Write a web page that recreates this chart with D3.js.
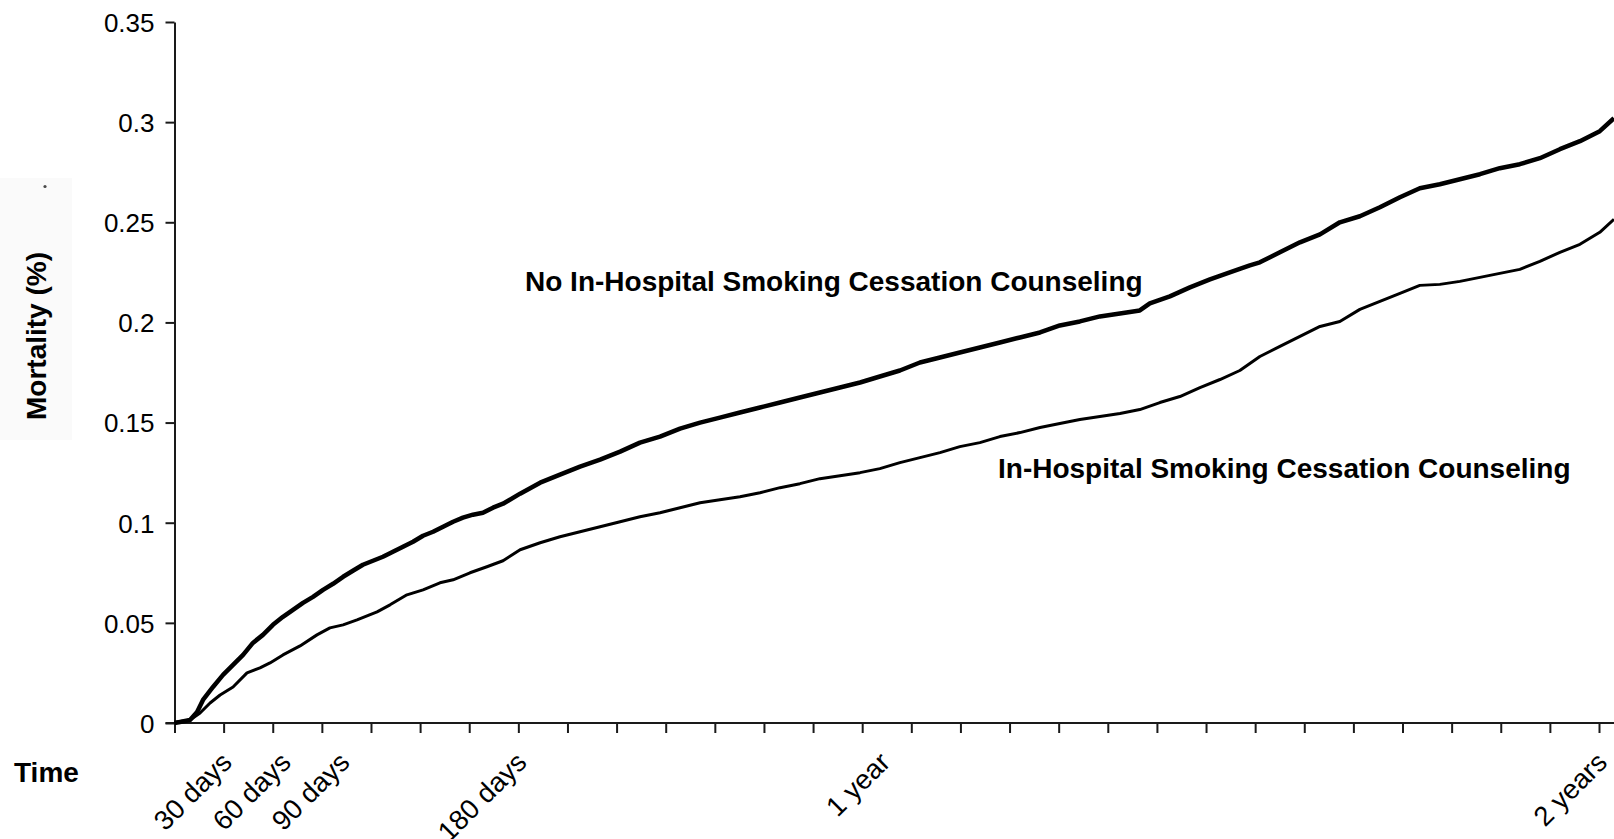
<!DOCTYPE html>
<html>
<head>
<meta charset="utf-8">
<script src="https://cdn.jsdelivr.net/npm/d3@7"></script>
<style>
  html, body { margin: 0; padding: 0; background: #fff; }
  svg { display: block; }
  text { font-family: "Liberation Sans", Arial, Helvetica, sans-serif; fill: #000; }
</style>
</head>
<body>
<svg id="chart" width="1614" height="839"></svg>
<script>
// Cumulative mortality over follow-up (days since discharge)
const noCounselDays = [0, 2.8, 7.9, 11.5, 14.5, 19.6, 24.7, 29.8, 34.9, 39.9, 45.0, 50.1, 55.2, 60.3, 65.4, 70.5, 75.6, 80.7, 85.8, 90.8, 95.9, 101.0, 106.1, 111.2, 116.3, 121.4, 126.5, 131.6, 136.7, 141.8, 146.8, 151.9, 157.0, 162.1, 167.2, 175.9, 186.1, 196.2, 206.4, 216.6, 226.8, 236.9, 247.1, 257.3, 267.5, 277.6, 287.8, 298.0, 308.2, 318.3, 328.5, 338.7, 348.9, 359.0, 369.2, 379.4, 389.6, 399.7, 409.9, 420.1, 430.3, 440.5, 450.6, 460.8, 471.0, 481.2, 491.3, 496.4, 506.6, 516.8, 527.0, 537.1, 547.3, 552.4, 562.6, 572.8, 583.0, 593.1, 603.3, 613.5, 623.7, 633.8, 644.0, 654.2, 664.4, 674.5, 684.7, 694.9, 705.1, 715.3, 725.4, 732.6];
const noCounselMortality = [0, 0.0005, 0.0015, 0.0055, 0.0115, 0.018, 0.024, 0.029, 0.034, 0.040, 0.044, 0.049, 0.053, 0.0565, 0.060, 0.063, 0.0665, 0.0695, 0.073, 0.076, 0.079, 0.081, 0.083, 0.0855, 0.088, 0.0905, 0.0935, 0.0955, 0.098, 0.1005, 0.1025, 0.104, 0.105, 0.1075, 0.1095, 0.1145, 0.120, 0.124, 0.128, 0.1315, 0.1355, 0.140, 0.143, 0.147, 0.150, 0.1525, 0.155, 0.1575, 0.160, 0.1625, 0.165, 0.1675, 0.170, 0.173, 0.176, 0.180, 0.1825, 0.185, 0.1875, 0.190, 0.1925, 0.195, 0.1985, 0.2005, 0.203, 0.2045, 0.206, 0.2095, 0.213, 0.2175, 0.2215, 0.225, 0.2285, 0.230, 0.235, 0.240, 0.244, 0.250, 0.253, 0.2575, 0.2625, 0.267, 0.269, 0.2715, 0.274, 0.277, 0.279, 0.282, 0.2865, 0.2905, 0.2955, 0.302];

const counselDays = [0, 1.3, 7.9, 13.0, 18.1, 23.2, 29.8, 36.9, 43.5, 48.6, 55.2, 63.9, 72.5, 79.1, 85.8, 92.9, 103.1, 109.7, 118.3, 126.5, 135.1, 141.8, 150.4, 159.0, 167.2, 175.9, 186.1, 196.2, 206.4, 216.6, 226.8, 236.9, 247.1, 257.3, 267.5, 277.6, 287.8, 298.0, 308.2, 318.3, 328.5, 338.7, 348.9, 359.0, 369.2, 379.4, 389.6, 399.7, 409.9, 420.1, 430.3, 440.5, 450.6, 460.8, 471.0, 481.2, 491.3, 501.5, 511.7, 521.9, 532.1, 542.2, 552.4, 562.6, 572.8, 583.0, 593.1, 603.3, 613.5, 623.7, 633.8, 644.0, 654.2, 664.4, 674.5, 684.7, 694.9, 705.1, 715.3, 725.4, 732.6];
const counselMortality = [0, 0.0005, 0.0015, 0.005, 0.010, 0.014, 0.018, 0.025, 0.0275, 0.030, 0.034, 0.0385, 0.044, 0.0475, 0.049, 0.0515, 0.0555, 0.059, 0.064, 0.0665, 0.070, 0.0715, 0.075, 0.078, 0.081, 0.0865, 0.090, 0.093, 0.0955, 0.098, 0.1005, 0.103, 0.105, 0.1075, 0.110, 0.1115, 0.113, 0.115, 0.1175, 0.1195, 0.122, 0.1235, 0.125, 0.127, 0.130, 0.1325, 0.135, 0.138, 0.140, 0.143, 0.145, 0.1475, 0.1495, 0.1515, 0.153, 0.1545, 0.1565, 0.160, 0.163, 0.1675, 0.1715, 0.176, 0.183, 0.188, 0.193, 0.198, 0.2005, 0.2065, 0.2105, 0.2145, 0.2185, 0.219, 0.2205, 0.2225, 0.2245, 0.2265, 0.2305, 0.235, 0.239, 0.245, 0.2515];

const yTickValues = [0, 0.05, 0.1, 0.15, 0.2, 0.25, 0.3, 0.35];
const xTickStepDays = 25;
const xMaxTickDay = 725;
const timeLabelDays = [30, 60, 90, 180, 365, 730];
const timeLabelText = ["30 days", "60 days", "90 days", "180 days", "1 year", "2 years"];

const seriesLabels = ["No In-Hospital Smoking Cessation Counseling", "In-Hospital Smoking Cessation Counseling"];

const svg = d3.select("#chart");
const W = 1614;

const x = d3.scaleLinear().domain([0, xMaxTickDay]).range([174.5, 1599]);
const y = d3.scaleLinear().domain([0, 0.35]).range([723, 22]);

// faint panel behind the y-axis title, with its small stray dot
svg.append("rect").attr("x", 0).attr("y", 178).attr("width", 72).attr("height", 262)
  .attr("fill", "#fafafa");
svg.append("circle").attr("cx", 45).attr("cy", 186.5).attr("r", 1.6).attr("fill", "#4a4a4a");

// y axis
const yAxis = svg.append("g").attr("transform", `translate(${x(0)},0)`)
  .call(d3.axisLeft(y).tickValues(yTickValues).tickSize(9).tickSizeOuter(0).tickPadding(11)
    .tickFormat(d => String(+d.toFixed(2))));
yAxis.selectAll("text").style("font-size", "26px").attr("dy", "0.36em");
yAxis.selectAll("line, path").attr("stroke", "#1a1a1a").attr("stroke-width", 2);

// x axis
const xTicks = d3.range(0, xMaxTickDay + 1, xTickStepDays);
const xAxis = svg.append("g").attr("transform", `translate(0,${y(0)})`)
  .call(d3.axisBottom(x).tickValues(xTicks).tickSize(10).tickSizeOuter(0).tickFormat(""));
xAxis.select(".domain").remove();
xAxis.selectAll("line").attr("stroke", "#1a1a1a").attr("stroke-width", 2);
xAxis.append("line").attr("x1", x(0) - 9).attr("x2", W).attr("y1", 0).attr("y2", 0)
  .attr("stroke", "#1a1a1a").attr("stroke-width", 2);

// time labels
svg.append("g").selectAll("text").data(timeLabelDays).join("text")
  .attr("transform", d => `translate(${x(d)},764) rotate(-45)`)
  .attr("text-anchor", "end")
  .style("font-size", "27.5px")
  .text((d, i) => timeLabelText[i]);

// axis titles
svg.append("text").attr("transform", "translate(46,336) rotate(-90)")
  .attr("text-anchor", "middle").style("font-size", "28px").style("font-weight", "bold")
  .text("Mortality (%)");
svg.append("text").attr("x", 14).attr("y", 782)
  .style("font-size", "28px").style("font-weight", "bold")
  .text("Time");

// curves
const noCounsel = noCounselDays.map((d, i) => [d, noCounselMortality[i]]);
const counsel = counselDays.map((d, i) => [d, counselMortality[i]]);
const line = d3.line().x(d => x(d[0])).y(d => y(d[1])).curve(d3.curveLinear);

svg.append("path").datum(noCounsel)
  .attr("fill", "none").attr("stroke", "#000").attr("stroke-width", 4.5)
  .attr("stroke-linejoin", "round")
  .attr("d", line);

svg.append("path").datum(counsel)
  .attr("fill", "none").attr("stroke", "#000").attr("stroke-width", 3)
  .attr("stroke-linejoin", "round")
  .attr("d", line);

// series labels
svg.append("text").attr("x", 525).attr("y", 291)
  .style("font-size", "28px").style("font-weight", "bold").text(seriesLabels[0]);
svg.append("text").attr("x", 998).attr("y", 478)
  .style("font-size", "28px").style("font-weight", "bold").text(seriesLabels[1]);
</script>
</body>
</html>
